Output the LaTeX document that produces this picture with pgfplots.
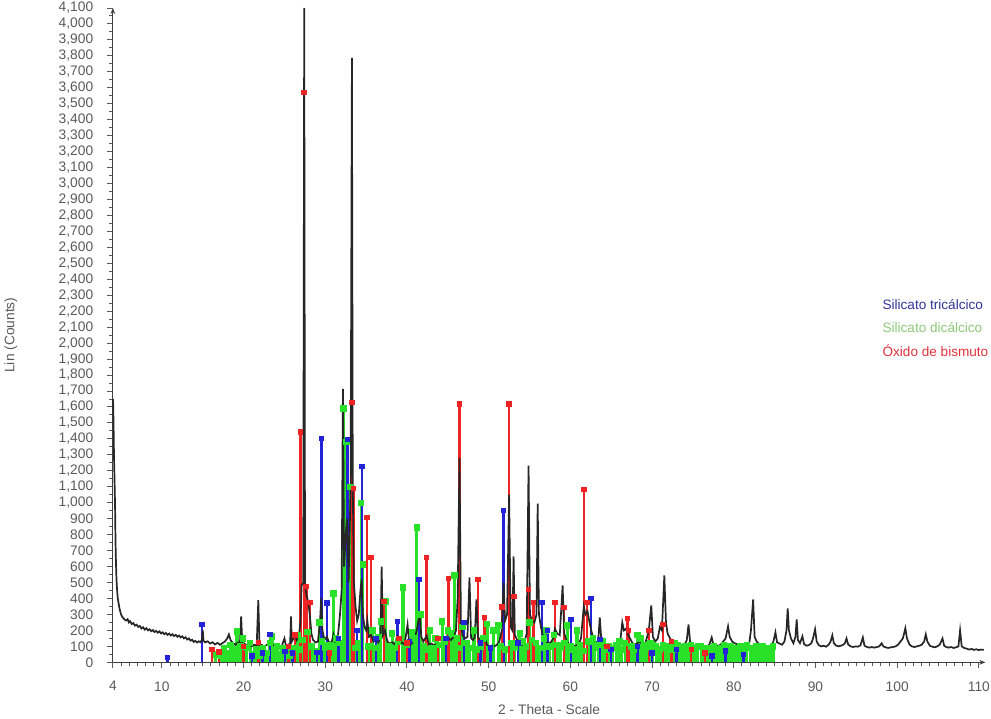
\documentclass[border=0pt]{standalone}
\usepackage{fontspec}
\setmainfont{Liberation Sans}
\usepackage{pgfplots}
\pgfplotsset{compat=1.18}
\usepackage{pgfplotstable}
\usetikzlibrary{arrows.meta}

\definecolor{tickgray}{HTML}{5A5A5A}
\definecolor{cblue}{RGB}{35,35,215}
\definecolor{cgreen}{RGB}{40,225,40}
\definecolor{cred}{RGB}{238,35,35}
\definecolor{tblue}{RGB}{50,50,150}
\definecolor{tgreen}{RGB}{140,200,120}
\definecolor{tred}{RGB}{225,50,60}
\newcommand{\tickfont}{\fontsize{6.9}{8}\selectfont}
\newcommand{\legfont}{\fontsize{6.8}{8}\selectfont}

% measured pattern (2theta, counts)
\pgfplotstableread{
x y
4.02 1650
4.08 1500
4.14 1280
4.2 1150
4.26 1000
4.32 760
4.38 620
4.44 520
4.52 450
4.6 400
4.7 370
4.8 340
4.9 320
5.0 300
5.15 285
5.3 275
5.45 268
5.6 262
5.8 270
5.95 250
6.1 258
6.3 240
6.5 246
6.7 230
6.9 236
7.1 222
7.3 228
7.5 212
7.7 220
7.9 205
8.1 214
8.3 200
8.5 207
8.7 195
8.9 202
9.1 190
9.3 197
9.5 186
9.7 194
9.9 181
10.1 188
10.3 176
10.5 184
10.7 172
10.9 180
11.1 168
11.3 176
11.5 165
11.7 172
11.9 160
12.1 168
12.3 156
12.5 163
12.7 150
12.9 157
13.1 143
13.3 150
13.5 136
13.7 142
13.9 128
14.1 134
14.3 124
14.5 132
14.7 126
14.9 140
15.0 200
15.1 135
15.3 125
15.6 132
15.9 118
16.2 126
16.5 112
16.8 122
17.1 110
17.4 120
17.7 130
18.0 150
18.2 175
18.4 140
18.7 120
19.0 110
19.3 125
19.55 115
19.7 288
19.85 110
20.1 118
20.4 104
20.7 112
21.0 100
21.3 110
21.6 104
21.8 390
21.95 102
22.2 110
22.5 98
22.8 108
23.1 118
23.3 150
23.5 112
23.8 98
24.1 108
24.4 96
24.7 106
25.0 150
25.2 100
25.5 110
25.7 120
25.8 288
25.9 130
26.1 150
26.3 170
26.5 140
26.8 180
26.97 260
27.1 480
27.3 500
27.42 4100
27.52 480
27.7 420
27.9 380
28.1 300
28.3 180
28.5 140
28.8 125
29.1 130
29.35 250
29.5 400
29.65 200
29.9 140
30.2 160
30.5 120
30.8 130
31.0 175
31.2 130
31.5 140
31.8 300
32.0 450
32.16 1714
32.3 600
32.5 800
32.65 900
32.85 500
33.1 1100
33.26 3787
33.36 1120
33.5 500
33.7 350
33.9 260
34.1 300
34.3 450
34.45 520
34.6 300
34.8 220
35.0 200
35.15 260
35.35 160
35.6 170
35.9 130
36.2 140
36.5 125
36.75 160
36.9 600
37.05 170
37.3 200
37.6 130
37.9 118
38.2 125
38.5 112
38.8 160
39.1 115
39.4 125
39.7 110
40.07 237
40.3 110
40.6 118
40.9 150
41.2 200
41.4 260
41.55 320
41.75 160
42.0 130
42.4 165
42.7 112
43.0 118
43.3 106
43.6 114
43.9 104
44.2 112
44.5 120
44.8 130
45.1 150
45.4 140
45.7 160
46.0 200
46.2 400
46.43 1280
46.6 250
46.8 170
47.1 150
47.4 160
47.65 532
47.85 150
48.1 140
48.3 160
48.5 394
48.7 160
48.9 140
49.2 130
49.5 150
49.8 110
50.1 100
50.4 106
50.7 100
51.0 110
51.3 130
51.6 200
51.83 500
52.0 260
52.25 300
52.5 1050
52.7 220
52.9 200
53.05 664
53.2 170
53.5 140
53.8 118
54.1 110
54.4 130
54.65 180
54.88 1233
55.05 300
55.3 260
55.6 250
55.85 300
56.0 995
56.15 300
56.4 220
56.7 160
57.0 140
57.3 118
57.6 125
57.9 150
58.1 210
58.4 180
58.7 170
59.05 482
59.25 180
59.5 140
59.8 116
60.1 110
60.4 100
60.7 106
61.0 110
61.3 150
61.64 350
61.85 300
62.1 320
62.3 260
62.55 200
62.8 150
63.1 125
63.4 130
63.6 282
63.8 130
64.1 110
64.4 100
64.7 106
65.0 98
65.3 106
65.6 100
65.9 112
66.1 130
66.35 250
66.55 200
66.8 210
67.0 180
67.3 150
67.6 120
67.9 110
68.2 120
68.5 130
68.8 115
69.1 112
69.4 160
69.6 200
69.9 357
70.1 160
70.4 130
70.7 150
70.95 220
71.2 200
71.5 545
71.7 250
71.9 180
72.2 150
72.5 130
72.8 112
73.1 110
73.4 104
73.7 108
74.0 112
74.25 140
74.46 238
74.65 130
74.9 112
75.2 104
75.5 100
75.8 104
76.1 96
76.4 100
76.7 98
77.0 110
77.3 156
77.5 112
77.8 100
78.1 104
78.4 110
78.7 130
79.0 150
79.3 225
79.5 160
79.8 130
80.1 120
80.4 112
80.7 104
81.0 100
81.3 98
81.6 104
81.9 120
82.1 200
82.37 394
82.55 160
82.8 130
83.1 115
83.4 110
83.7 104
84.0 102
84.3 100
84.6 106
84.85 130
85.1 188
85.3 125
85.6 118
85.9 110
86.2 130
86.45 200
86.6 338
86.75 200
87.0 150
87.3 120
87.55 160
87.7 269
87.85 140
88.1 120
88.4 163
88.6 115
88.9 104
89.2 108
89.5 120
89.7 150
89.95 207
90.15 130
90.4 108
90.7 100
91.0 104
91.3 98
91.6 110
91.85 130
92.06 169
92.25 120
92.5 106
92.8 100
93.1 104
93.4 110
93.6 120
93.8 150
94.0 112
94.3 100
94.6 96
94.9 100
95.2 98
95.5 106
95.8 156
96.0 104
96.3 96
96.6 92
96.9 96
97.2 92
97.5 96
97.8 100
98.1 119
98.3 100
98.6 94
98.9 90
99.2 94
99.5 96
99.8 100
100.1 110
100.4 130
100.7 150
101.0 213
101.2 150
101.5 112
101.8 100
102.1 96
102.4 100
102.7 104
103.0 110
103.3 130
103.5 175
103.7 130
104.0 104
104.3 98
104.6 94
104.9 100
105.2 110
105.55 150
105.75 104
106.0 96
106.3 92
106.6 96
106.9 90
107.2 94
107.5 100
107.7 200
107.9 100
108.2 90
108.5 86
108.8 80
109.1 84
109.4 78
109.7 82
110.0 76
110.2 80
110.6 78
}\scandata

% Silicato tricalcico reference lines
\pgfplotstableread{
x y
10.67 31
14.9 238
16.1 81
21.0 40
22.3 60
23.2 175
25.07 69
26.0 60
29.0 62
29.52 1402
30.2 370
31.6 150
32.7 1396
33.9 200
34.47 1227
36.2 150
38.85 256
40.3 130
41.5 520
44.8 150
47.0 250
49.0 120
50.2 90
51.83 951
53.6 120
56.5 376
57.2 200
60.1 269
62.5 400
63.6 144
65.0 80
68.2 100
70.0 60
73.0 80
77.3 40
79.0 70
81.2 50
}\refblue

% Silicato dicalcico reference lines
\pgfplotstableread{
x y
16.6 50
17.2 40
17.6 90
18.0 60
18.4 110
18.8 80
19.2 194
19.6 100
19.9 150
20.4 90
20.8 120
21.2 50
21.6 80
22.0 40
22.4 90
22.8 60
23.2 120
23.5 163
23.9 80
24.1 100
24.4 50
24.8 90
25.2 70
25.6 40
26.0 90
26.6 170
26.9 80
27.2 140
27.8 190
28.4 100
28.8 70
29.3 250
29.6 130
30.0 90
30.4 110
30.8 80
31.0 432
31.3 150
31.8 120
32.25 1590
32.6 1380
33.0 1100
33.6 90
34.0 120
34.4 1000
34.6 613
35.3 100
35.8 200
36.2 90
36.5 160
36.8 257
37.4 380
37.8 100
38.2 180
38.5 90
38.9 130
39.5 470
40.0 110
40.6 190
40.9 150
41.2 845
41.7 300
42.0 100
42.4 80
42.8 200
43.1 90
43.5 150
43.9 110
44.3 257
44.6 130
45.0 200
45.4 180
45.8 545
46.1 150
46.5 90
46.8 220
47.3 120
47.7 90
48.2 200
48.5 80
49.0 100
49.3 150
49.8 240
50.3 90
50.6 200
51.2 230
51.5 100
52.0 80
52.8 120
53.2 90
53.8 180
54.2 130
54.6 100
55.0 250
55.3 140
55.8 120
56.2 90
56.8 150
57.0 200
57.4 100
58.0 170
58.4 110
58.8 90
59.3 120
59.6 230
60.0 100
60.4 80
60.8 200
61.2 110
61.6 70
62.2 130
62.8 150
63.0 90
63.4 110
64.0 130
64.3 80
64.7 100
65.2 90
65.6 110
66.0 130
66.3 80
66.7 120
67.5 100
67.8 80
68.2 170
68.6 150
69.0 110
69.4 90
69.8 120
70.1 110
70.5 100
70.9 80
71.3 110
71.7 90
72.1 100
72.5 80
72.8 120
73.2 110
73.6 90
74.0 100
74.4 80
74.8 110
75.2 90
75.6 100
76.0 100
76.4 80
76.8 90
77.2 70
77.6 100
78.0 80
78.4 90
78.8 110
79.2 80
79.6 100
80.0 90
80.4 70
80.8 100
81.2 80
81.6 110
82.0 90
82.4 70
82.8 100
83.2 80
83.6 100
84.0 90
84.4 70
84.8 100
}\refgreen

% Oxido de bismuto reference lines
\pgfplotstableread{
x y
16.1 80
17.0 65
20.0 100
21.8 125
25.5 100
26.3 170
26.97 1442
27.42 3570
27.7 476
28.1 375
30.5 60
33.3 1628
33.45 1090
35.1 908
35.6 657
37.2 380
39.0 150
40.0 120
42.4 657
43.8 150
45.1 526
46.43 1620
48.7 520
49.5 282
51.6 345
52.5 1620
53.1 413
54.88 457
55.5 376
58.1 376
59.2 344
61.64 1083
62.0 376
64.5 100
67.0 275
67.1 200
69.6 200
71.3 238
72.4 131
74.8 80
76.5 60
}\refred

\begin{document}
\begin{tikzpicture}
\begin{axis}[
    scale only axis,
    width=436.7pt, height=327.5pt,
    xmin=4, xmax=110.8,
    ymin=0, ymax=4100,
    clip=false,
    axis lines=left,
    axis line style={draw=black!75, line width=0.6pt, -{Stealth[length=3pt,width=2.4pt]}},
    xtick={4,10,20,...,110},
    minor xtick={5,6,...,109},
    ytick={0,100,...,4100},
    minor y tick num=1,
    tick align=outside,
    major tick length=3pt,
    minor tick length=1.8pt,
    tick style={draw=tickgray, line width=0.5pt},
    /pgf/number format/assume math mode=true,
    /pgf/number format/1000 sep={,},
    ticklabel style={font=\tickfont, text=tickgray},
    yticklabel style={xshift=-3.3pt},
    xticklabel style={yshift=-3pt},
    xlabel={2 - Theta - Scale},
    ylabel={Lin (Counts)},
    label style={font=\tickfont, text=tickgray, inner sep=0pt},
    xlabel style={at={(axis description cs:0.5,-0.072)}, anchor=center},
    ylabel style={at={(axis description cs:-0.117,0.5)}, anchor=center},
]
\addplot[ycomb, draw=cgreen, line width=1.6pt, mark=square*, mark size=0.8pt, mark options={fill=cgreen, draw=cgreen}] table {\refgreen};
\addplot[ycomb, draw=cblue, line width=1.2pt, mark=square*, mark size=0.8pt, mark options={fill=cblue, draw=cblue}] table {\refblue};
\addplot[ycomb, draw=cred, line width=1.2pt, mark=square*, mark size=0.8pt, mark options={fill=cred, draw=cred}] table {\refred};
\addplot[draw=black!85, line width=0.85pt, mark=none] table {\scandata};

\node[anchor=west, inner sep=0pt, font=\legfont, text=tblue] at (axis description cs:0.8817,0.5466) {Silicato tricálcico};
\node[anchor=west, inner sep=0pt, font=\legfont, text=tgreen] at (axis description cs:0.8817,0.5115) {Silicato dicálcico};
\node[anchor=west, inner sep=0pt, font=\legfont, text=tred] at (axis description cs:0.8817,0.4763) {Óxido de bismuto};
\coordinate (orig) at (rel axis cs:0,0);
\end{axis}
\pgfresetboundingbox
\path[use as bounding box] ([xshift=-56.5pt,yshift=-28pt]orig) rectangle ([xshift=439.5pt,yshift=331.5pt]orig);
\end{tikzpicture}
\end{document}
